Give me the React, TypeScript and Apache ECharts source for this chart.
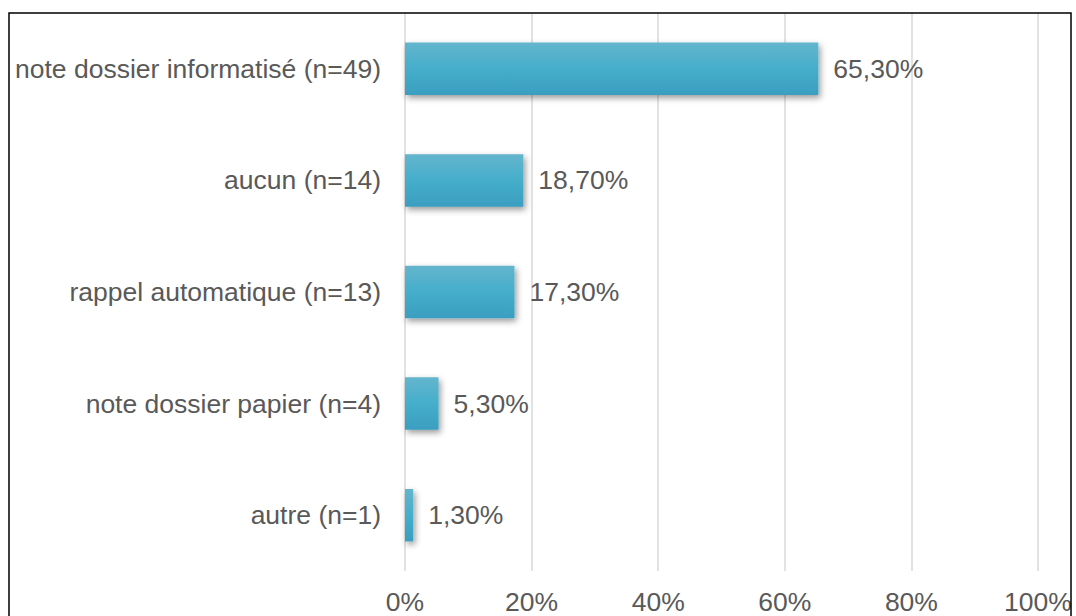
import React, { useEffect, useRef } from "react";
import * as echarts from "echarts";

const categories = [
  "note dossier informatisé (n=49)",
  "aucun (n=14)",
  "rappel automatique (n=13)",
  "note dossier papier (n=4)",
  "autre (n=1)",
];
const values = [65.3, 18.7, 17.3, 5.3, 1.3];
const valueLabels = ["65,30%", "18,70%", "17,30%", "5,30%", "1,30%"];

const FONT = "'Liberation Sans', Arial, sans-serif";
const TEXT = "#595959";
const FS = 26.5;

export default function App() {
  const ref = useRef<HTMLDivElement>(null);
  useEffect(() => {
    if (!ref.current) return;
    const chart = echarts.init(ref.current, undefined, { renderer: "svg" });
    chart.setOption({
      animation: false,
      backgroundColor: "#ffffff",
      grid: { left: 405, right: 38, top: 13, bottom: 45, containLabel: false },
      xAxis: {
        type: "value",
        min: 0,
        max: 100,
        interval: 20,
        axisLine: { show: false },
        axisTick: { show: false },
        axisLabel: {
          formatter: (v: number) => `${v}%`,
          color: TEXT,
          fontSize: FS,
          fontFamily: FONT,
          margin: 17,
        },
        splitLine: { lineStyle: { color: "#d9d9d9", width: 1.5 } },
      },
      yAxis: {
        type: "category",
        data: categories,
        inverse: true,
        axisLine: { show: false },
        axisTick: { show: false },
        axisLabel: {
          color: TEXT,
          fontSize: FS,
          fontFamily: FONT,
          margin: 24,
        },
      },
      series: [
        {
          type: "bar",
          data: values,
          barWidth: "47%",
          itemStyle: {
            color: new echarts.graphic.LinearGradient(0, 0, 0, 1, [
              { offset: 0, color: "#64b5cd" },
              { offset: 0.5, color: "#45aecb" },
              { offset: 1, color: "#3a9ec0" },
            ]),
            shadowColor: "rgba(0,0,0,0.4)",
            shadowBlur: 6,
            shadowOffsetX: 2,
            shadowOffsetY: 3,
          },
          label: {
            show: true,
            position: "right",
            distance: 15,
            color: TEXT,
            fontSize: FS,
            fontFamily: FONT,
            formatter: (p: any) => valueLabels[p.dataIndex],
          },
        },
      ],
      graphic: [
        {
          type: "rect",
          shape: { x: 9, y: 13, width: 1062, height: 700 },
          style: { fill: "none", stroke: "#000000", lineWidth: 1.5 },
          silent: true,
          z: 100,
        },
      ],
    });
    return () => chart.dispose();
  }, []);
  return <div ref={ref} style={{ width: 1076, height: 616, position: "absolute", left: 0, top: 0 }} />;
}
